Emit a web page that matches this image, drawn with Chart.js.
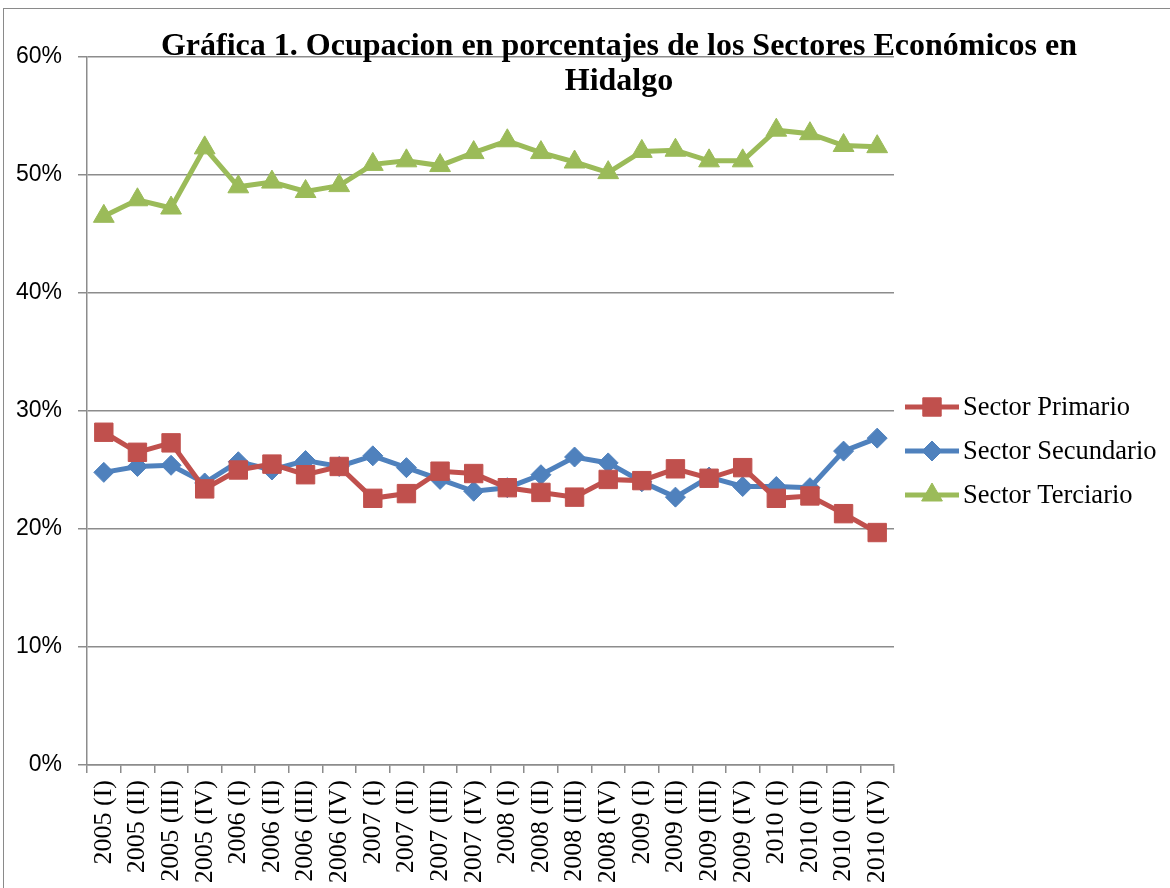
<!DOCTYPE html>
<html>
<head>
<meta charset="utf-8">
<script src="https://cdn.jsdelivr.net/npm/chart.js@4/dist/chart.umd.min.js"></script>
<style>
    body { margin: 0; background: #fff; }
    #wrap { position: relative; width: 1170px; height: 888px; overflow: hidden; }
    #frame { position: absolute; left: 3px; top: 8px; width: 1300px; height: 1000px; border: 1.5px solid #8a8a8a; }
    #chart { position: absolute; left: 0; top: 0; }
</style>
</head>
<body>
<div id="wrap">
    <div id="frame"></div>
    <canvas id="chart" width="1170" height="888"></canvas>
</div>
<script>
// Quarters shown on the x axis
const quarters = [
    '2005 (I)', '2005 (II)', '2005 (III)', '2005 (IV)',
    '2006 (I)', '2006 (II)', '2006 (III)', '2006 (IV)',
    '2007 (I)', '2007 (II)', '2007 (III)', '2007 (IV)',
    '2008 (I)', '2008 (II)', '2008 (III)', '2008 (IV)',
    '2009 (I)', '2009 (II)', '2009 (III)', '2009 (IV)',
    '2010 (I)', '2010 (II)', '2010 (III)', '2010 (IV)'
];

// Share of employment (%) by sector
const primario = [28.2, 26.5, 27.3, 23.4, 25.0, 25.5, 24.6, 25.3, 22.6, 23.0, 24.9, 24.7,
                  23.5, 23.1, 22.7, 24.2, 24.1, 25.1, 24.3, 25.2, 22.6, 22.8, 21.3, 19.7];
const secundario = [24.8, 25.3, 25.4, 23.9, 25.7, 25.0, 25.8, 25.3, 26.2, 25.2, 24.2, 23.2,
                    23.5, 24.6, 26.1, 25.6, 24.0, 22.7, 24.4, 23.6, 23.6, 23.5, 26.6, 27.7];
const terciario = [46.5, 47.9, 47.2, 52.3, 49.0, 49.4, 48.6, 49.1, 50.9, 51.2, 50.8, 51.9,
                   52.9, 51.9, 51.1, 50.2, 52.0, 52.1, 51.2, 51.2, 53.8, 53.5, 52.5, 52.4];

const seriesNames = ['Sector Primario', 'Sector Secundario', 'Sector Terciario'];
const yTicks = [0, 10, 20, 30, 40, 50, 60];
const titleLines = ['Gráfica 1. Ocupacion en porcentajes de los Sectores Económicos en', 'Hidalgo'];

const gridColor = '#8c8c8c';

function makeSeries(label, data, color, style, radius) {
    return {
        label: label,
        data: data,
        borderColor: color,
        backgroundColor: color,
        borderWidth: 5,
        tension: 0,
        pointStyle: style,
        pointRadius: radius,
        pointHoverRadius: radius,
        pointBorderWidth: 1,
        pointBackgroundColor: color,
        pointBorderColor: color
    };
}

// Title drawn over the plot, like the original
const titlePlugin = {
    id: 'overTitle',
    afterDraw(chart) {
        const ctx = chart.ctx;
        ctx.save();
        ctx.fillStyle = '#000';
        ctx.font = 'bold 32px "Liberation Serif", "Times New Roman", serif';
        ctx.textAlign = 'center';
        ctx.textBaseline = 'alphabetic';
        ctx.fillText(titleLines[0], 619, 55);
        ctx.fillText(titleLines[1], 619, 90);
        ctx.restore();
    }
};

// Legend with line + marker, placed right of the plot
const sideLegend = {
    id: 'sideLegend',
    afterDraw(chart) {
        const ctx = chart.ctx;
        const rowY = [407, 451, 495];
        ctx.save();
        chart.data.datasets.forEach((ds, i) => {
            const y = rowY[i];
            ctx.strokeStyle = ds.borderColor;
            ctx.lineWidth = ds.borderWidth;
            ctx.beginPath();
            ctx.moveTo(905, y);
            ctx.lineTo(959, y);
            ctx.stroke();
            ctx.fillStyle = ds.backgroundColor;
            ctx.strokeStyle = ds.borderColor;
            ctx.lineWidth = 1;
            Chart.helpers.drawPoint(ctx, {
                pointStyle: ds.pointStyle,
                radius: ds.pointRadius,
                rotation: 0,
                borderWidth: 1
            }, 932, y);
            ctx.fillStyle = '#000';
            ctx.font = '26.5px "Liberation Serif", "Times New Roman", serif';
            ctx.textAlign = 'left';
            ctx.textBaseline = 'middle';
            ctx.fillText(ds.label, 963, y + 1);
        });
        ctx.restore();
    }
};

new Chart(document.getElementById('chart').getContext('2d'), {
    type: 'line',
    data: {
        labels: quarters,
        datasets: [
            makeSeries(seriesNames[0], primario, '#C0504D', 'rect', 13),
            makeSeries(seriesNames[1], secundario, '#4F81BD', 'rectRot', 10),
            makeSeries(seriesNames[2], terciario, '#9BBB59', 'triangle', 12)
        ]
    },
    options: {
        responsive: false,
        animation: false,
        layout: { padding: { top: 57, right: 276, left: 0, bottom: 0 } },
        plugins: {
            legend: { display: false },
            title: { display: false },
            tooltip: { enabled: false }
        },
        scales: {
            x: {
                offset: true,
                afterFit: (scale) => { scale.height = 123; },
                grid: {
                    offset: true,
                    drawOnChartArea: false,
                    color: gridColor,
                    lineWidth: 1.5,
                    tickLength: 8
                },
                border: { color: gridColor, width: 1.5 },
                ticks: {
                    autoSkip: false,
                    maxRotation: 90,
                    minRotation: 90,
                    padding: 7,
                    color: '#000',
                    font: { family: '"Liberation Serif", "Times New Roman", serif', size: 26 }
                }
            },
            y: {
                min: yTicks[0],
                max: yTicks[yTicks.length - 1],
                afterFit: (scale) => { scale.width = 87; },
                afterBuildTicks: (scale) => { scale.ticks = yTicks.map(v => ({ value: v })); },
                grid: {
                    color: gridColor,
                    lineWidth: 1.5,
                    tickLength: 9
                },
                border: { color: gridColor, width: 1.5 },
                ticks: {
                    padding: 16,
                    color: '#000',
                    callback: (v) => v + '%',
                    font: { family: '"Liberation Sans", Arial, sans-serif', size: 23 }
                }
            }
        }
    },
    plugins: [titlePlugin, sideLegend]
});
</script>
</body>
</html>
